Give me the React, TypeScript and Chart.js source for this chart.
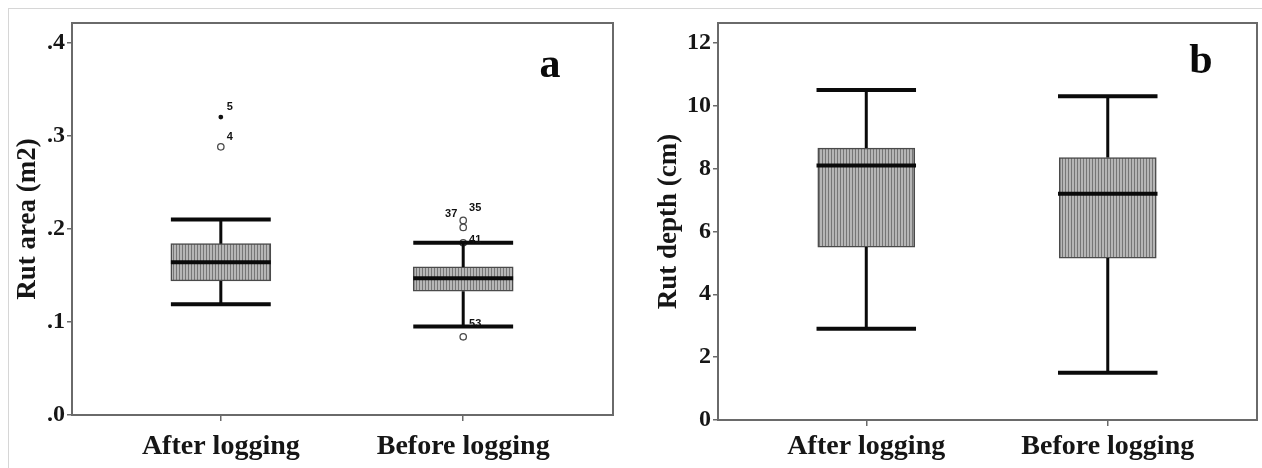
import React, { useEffect, useRef } from 'react';
import { Chart, registerables } from 'chart.js';

Chart.register(...registerables);

// ---------- data ----------
const CATEGORIES = ['After logging', 'Before logging'];

// Panel a: rut area (m2)
const A_LOW = [0.119, 0.095];
const A_Q1 = [0.144, 0.133];
const A_MEDIAN = [0.164, 0.147];
const A_Q3 = [0.184, 0.159];
const A_HIGH = [0.21, 0.185];
const A_TICKS = [0, 0.1, 0.2, 0.3, 0.4];
const A_TICK_LABELS = ['.0', '.1', '.2', '.3', '.4'];
const A_OUT_CAT = [0, 0, 1, 1, 1, 1];
const A_OUT_VAL = [0.288, 0.32, 0.209, 0.2015, 0.185, 0.084];
const A_OUT_LABEL = ['4', '5', '35', '37', '41', '53'];
const A_OUT_KIND = ['o', '*', 'o', 'o', 'o', 'o'];

// Panel b: rut depth (cm)
const B_LOW = [2.9, 1.5];
const B_Q1 = [5.5, 5.15];
const B_MEDIAN = [8.1, 7.2];
const B_Q3 = [8.65, 8.35];
const B_HIGH = [10.5, 10.3];
const B_TICKS = [0, 2, 4, 6, 8, 10, 12];
const B_TICK_LABELS = ['0', '2', '4', '6', '8', '10', '12'];
const B_OUT_CAT: number[] = [];
const B_OUT_VAL: number[] = [];
const B_OUT_LABEL: string[] = [];
const B_OUT_KIND: string[] = [];

// ---------- styles ----------
const SERIF = "'Liberation Serif', 'Times New Roman', serif";
const TEXT = '#161616';
const FRAME = '#6a6a6a';
const LABEL_OFFSETS: Record<string, [number, number]> = {
  '35': [12, -12],
  '37': [-12, -13],
  '41': [12, -3],
  '53': [12, -13],
};
const DEFAULT_OFFSET: [number, number] = [9, -10];

function makePattern(): CanvasPattern | string {
  const c = document.createElement('canvas');
  c.width = 3;
  c.height = 4;
  const g = c.getContext('2d');
  if (!g) return '#aaaaaa';
  g.fillStyle = '#b6b6b6';
  g.fillRect(0, 0, 3, 4);
  g.fillStyle = '#767676';
  g.fillRect(2, 0, 1, 4);
  return g.createPattern(c, 'repeat') || '#aaaaaa';
}

const boxPlugin = {
  id: 'boxExtras',
  beforeDatasetsDraw(chart: any) {
    const { ctx, chartArea } = chart;
    ctx.save();
    ctx.strokeStyle = FRAME;
    ctx.lineWidth = 2;
    ctx.strokeRect(chartArea.left, chartArea.top, chartArea.right - chartArea.left, chartArea.bottom - chartArea.top);
    ctx.restore();
  },
  afterDatasetsDraw(chart: any, _args: any, opts: any) {
    const { ctx, chartArea } = chart;
    const x = chart.scales.x;
    const y = chart.scales.y;
    const half = opts.halfWidth;
    ctx.save();
    ctx.strokeStyle = '#0a0a0a';
    ctx.lineCap = 'butt';
    for (let i = 0; i < opts.low.length; i++) {
      const cx = x.getPixelForValue(i);
      const l = x.getPixelForValue(i - half);
      const r = x.getPixelForValue(i + half);
      // whiskers
      ctx.lineWidth = 3;
      ctx.beginPath();
      ctx.moveTo(cx, y.getPixelForValue(opts.q3[i]));
      ctx.lineTo(cx, y.getPixelForValue(opts.high[i]));
      ctx.moveTo(cx, y.getPixelForValue(opts.q1[i]));
      ctx.lineTo(cx, y.getPixelForValue(opts.low[i]));
      ctx.stroke();
      // caps
      ctx.lineWidth = 4;
      ctx.beginPath();
      ctx.moveTo(l, y.getPixelForValue(opts.high[i]));
      ctx.lineTo(r, y.getPixelForValue(opts.high[i]));
      ctx.moveTo(l, y.getPixelForValue(opts.low[i]));
      ctx.lineTo(r, y.getPixelForValue(opts.low[i]));
      ctx.stroke();
      // median
      ctx.lineWidth = 4;
      ctx.beginPath();
      ctx.moveTo(l, y.getPixelForValue(opts.median[i]));
      ctx.lineTo(r, y.getPixelForValue(opts.median[i]));
      ctx.stroke();
    }
    // outlier labels
    ctx.fillStyle = '#111';
    ctx.font = "bold 11px 'Liberation Sans', Arial, sans-serif";
    ctx.textAlign = 'center';
    ctx.textBaseline = 'middle';
    for (let k = 0; k < opts.outLabel.length; k++) {
      const px = x.getPixelForValue(opts.outCat[k]);
      const py = y.getPixelForValue(opts.outVal[k]);
      const off = LABEL_OFFSETS[opts.outLabel[k]] || DEFAULT_OFFSET;
      ctx.fillText(opts.outLabel[k], px + off[0], py + off[1]);
    }
    // panel letter
    ctx.font = `bold 42px ${SERIF}`;
    ctx.textAlign = 'center';
    ctx.textBaseline = 'alphabetic';
    ctx.fillStyle = '#0a0a0a';
    ctx.fillText(opts.letter, chartArea.right - opts.letterDx, chartArea.top + opts.letterDy);
    ctx.restore();
  },
};

type PanelProps = {
  width: number;
  left: number;
  low: number[];
  q1: number[];
  median: number[];
  q3: number[];
  high: number[];
  ticks: number[];
  tickLabels: string[];
  yMax: number;
  title: string;
  outCat: number[];
  outVal: number[];
  outLabel: string[];
  outKind: string[];
  letter: string;
  layout: {
    yWidth: number;
    xHeight: number;
    right: number;
    titlePad: number;
    barPx: number;
    letterDx: number;
    letterDy: number;
    labelPad: number;
  };
};

function Panel(p: PanelProps) {
  const ref = useRef<HTMLCanvasElement | null>(null);
  useEffect(() => {
    if (!ref.current) return;
    const pattern = makePattern();
    const halfWidth = 0.206;
    const circles = p.outVal.map((v, k) => ({ x: p.outCat[k], y: v })).filter((_, k) => p.outKind[k] === 'o');
    const stars = p.outVal.map((v, k) => ({ x: p.outCat[k], y: v })).filter((_, k) => p.outKind[k] === '*');
    const chart = new Chart(ref.current, {
      type: 'bar',
      data: {
        datasets: [
          {
            type: 'bar',
            data: p.q1.map((v, i) => ({ x: i, y: [v, p.q3[i]] })) as any,
            backgroundColor: pattern as any,
            borderColor: '#4a4a4a',
            borderWidth: 1.5,
            borderSkipped: false,
            barThickness: p.layout.barPx,
          } as any,
          {
            type: 'scatter',
            data: circles,
            pointStyle: 'circle',
            pointRadius: 3.2,
            pointBackgroundColor: '#ffffff',
            pointBorderColor: '#4a4a4a',
            pointBorderWidth: 1.3,
          } as any,
          {
            type: 'scatter',
            data: stars,
            pointStyle: 'circle',
            pointRadius: 2.4,
            pointBackgroundColor: '#111',
            pointBorderColor: '#111',
            pointBorderWidth: 0,
          } as any,
        ],
      },
      options: {
        animation: false,
        responsive: false,
        events: [],
        layout: { padding: { left: 0, right: p.layout.right, top: 23, bottom: 0 } },
        plugins: {
          legend: { display: false },
          tooltip: { enabled: false },
          boxExtras: {
            low: p.low,
            q1: p.q1,
            median: p.median,
            q3: p.q3,
            high: p.high,
            halfWidth,
            outCat: p.outCat,
            outVal: p.outVal,
            outLabel: p.outLabel,
            letter: p.letter,
            letterDx: p.layout.letterDx,
            letterDy: p.layout.letterDy,
          },
        } as any,
        scales: {
          x: {
            type: 'linear',
            min: -0.614,
            max: 1.618,
            offset: false,
            afterBuildTicks: (s: any) => {
              s.ticks = CATEGORIES.map((_, i) => ({ value: i }));
            },
            afterFit: (s: any) => {
              s.height = p.layout.xHeight;
            },
            ticks: {
              callback: (v: any) => CATEGORIES[v as number] ?? '',
              font: { family: SERIF, size: 28, weight: 'bold' },
              color: TEXT,
              padding: p.layout.labelPad,
              maxRotation: 0,
              autoSkip: false,
            },
            grid: { display: true, offset: false, drawOnChartArea: false, drawTicks: true, tickLength: 6, color: FRAME, lineWidth: 1.5 },
            border: { display: false },
          },
          y: {
            type: 'linear',
            min: 0,
            max: p.yMax,
            afterBuildTicks: (s: any) => {
              s.ticks = p.ticks.map((v) => ({ value: v }));
            },
            afterFit: (s: any) => {
              s.width = p.layout.yWidth;
            },
            ticks: {
              callback: (v: any) => {
                const idx = p.ticks.findIndex((t) => Math.abs(t - Number(v)) < 1e-9);
                return idx >= 0 ? p.tickLabels[idx] : '';
              },
              font: { family: SERIF, size: 24, weight: 'bold' },
              color: TEXT,
              padding: 2,
              autoSkip: false,
            },
            grid: { display: true, drawOnChartArea: false, drawTicks: true, tickLength: 5, color: FRAME, lineWidth: 1.5 },
            border: { display: false },
            title: {
              display: true,
              text: p.title,
              font: { family: SERIF, size: 27, weight: 'bold' },
              color: TEXT,
              padding: { top: p.layout.titlePad, bottom: 0 },
            },
          },
        },
      } as any,
      plugins: [boxPlugin],
    });
    return () => chart.destroy();
  }, []);
  return (
    <canvas
      ref={ref}
      width={p.width}
      height={468}
      style={{ position: 'absolute', left: p.left, top: 0, width: p.width, height: 468 }}
    />
  );
}

export default function App() {
  return (
    <div style={{ position: 'fixed', left: 0, top: 0, width: 1262, height: 468, background: '#ffffff', overflow: 'hidden' }}>
      <div style={{ position: 'absolute', left: 8, top: 8, width: 1254, height: 1, background: '#d6d6d6' }} />
      <div style={{ position: 'absolute', left: 8, top: 8, width: 1, height: 460, background: '#d6d6d6' }} />
      <Panel
        width={640}
        left={0}
        low={A_LOW}
        q1={A_Q1}
        median={A_MEDIAN}
        q3={A_Q3}
        high={A_HIGH}
        ticks={A_TICKS}
        tickLabels={A_TICK_LABELS}
        yMax={0.421}
        title="Rut area (m2)"
        outCat={A_OUT_CAT}
        outVal={A_OUT_VAL}
        outLabel={A_OUT_LABEL}
        outKind={A_OUT_KIND}
        letter="a"
        layout={{ yWidth: 72, xHeight: 53, right: 27, titlePad: 12, barPx: 100, letterDx: 63, letterDy: 54, labelPad: 9 }}
      />
      <Panel
        width={622}
        left={640}
        low={B_LOW}
        q1={B_Q1}
        median={B_MEDIAN}
        q3={B_Q3}
        high={B_HIGH}
        ticks={B_TICKS}
        tickLabels={B_TICK_LABELS}
        yMax={12.63}
        title="Rut depth (cm)"
        outCat={B_OUT_CAT}
        outVal={B_OUT_VAL}
        outLabel={B_OUT_LABEL}
        outKind={B_OUT_KIND}
        letter="b"
        layout={{ yWidth: 78, xHeight: 48, right: 5, titlePad: 13, barPx: 97, letterDx: 56, letterDy: 50, labelPad: 4 }}
      />
    </div>
  );
}
